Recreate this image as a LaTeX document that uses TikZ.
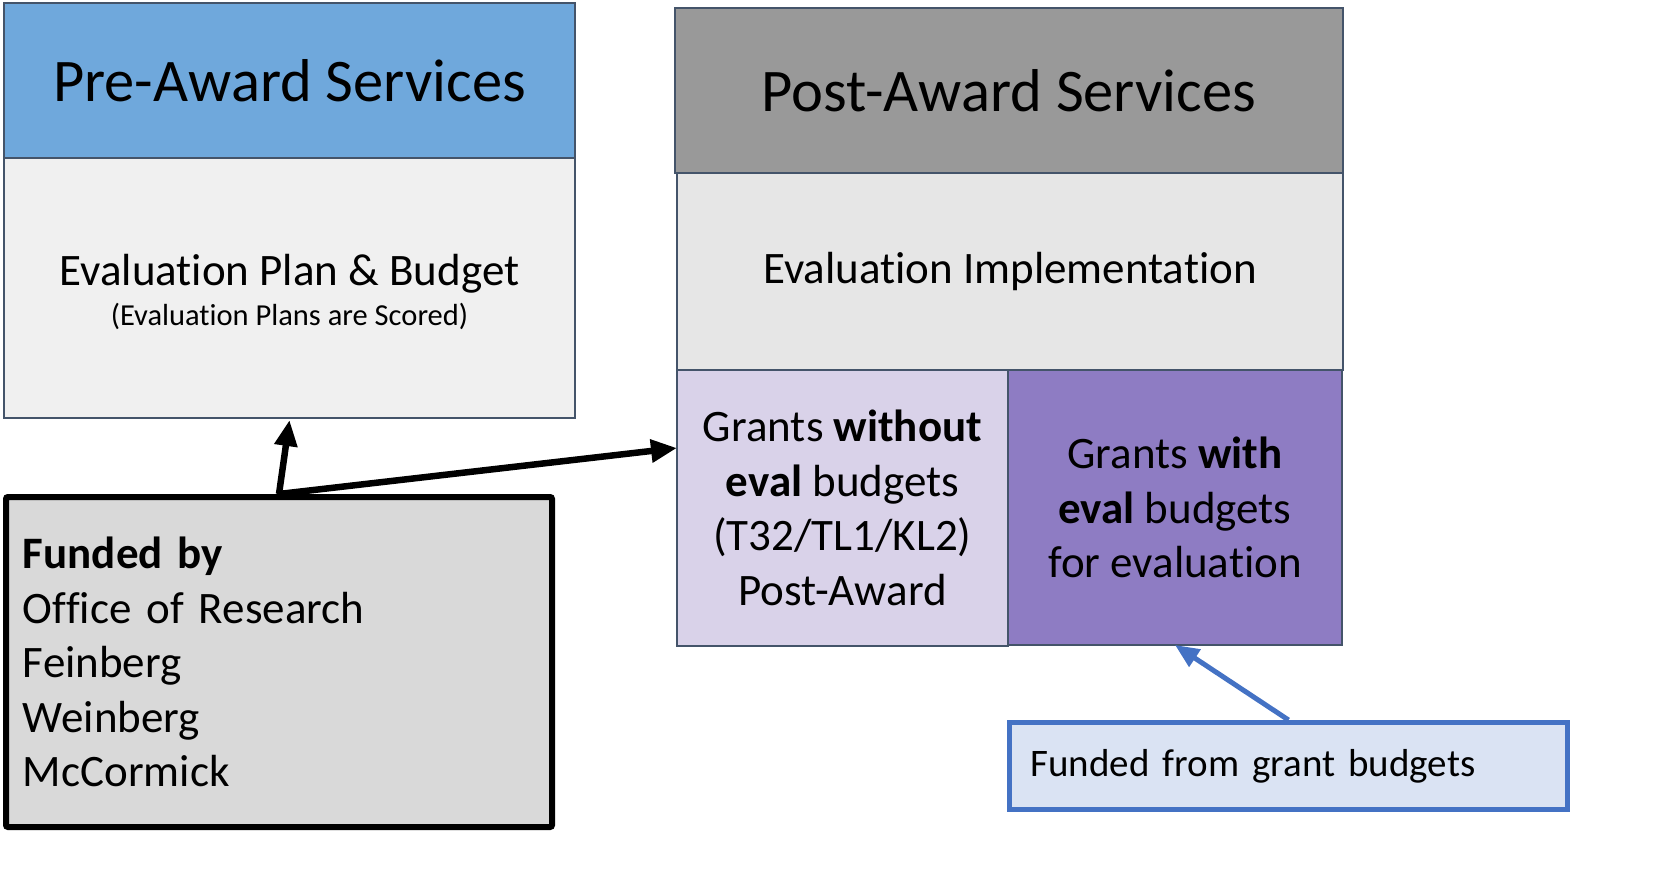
\documentclass[tikz,border=0pt]{standalone}
\usepackage{fontspec}
\setmainfont{Carlito}[Ligatures=NoCommon]
\usetikzlibrary{arrows.meta}
\definecolor{preblue}{HTML}{6FA8DC}
\definecolor{prebody}{HTML}{F0F0F0}
\definecolor{postgray}{HTML}{999999}
\definecolor{postbody}{HTML}{E6E6E6}
\definecolor{lav}{HTML}{D9D2E9}
\definecolor{purp}{HTML}{8E7CC3}
\definecolor{edgec}{HTML}{44546A}
\definecolor{fundgray}{HTML}{D9D9D9}
\definecolor{bluebd}{HTML}{4472C4}
\definecolor{bluefill}{HTML}{DAE3F3}
\begin{document}
\begin{tikzpicture}[x=1pt,y=-1pt,
  cell/.style={draw=edgec, line width=1.5pt, inner sep=0pt, outer sep=0pt, anchor=north west, align=center},
  titlefont/.style={font=\fontsize{60.5}{72}\selectfont},
  bigfont/.style={font=\fontsize{45}{54.5}\selectfont},
  smallfont/.style={font=\fontsize{30.5}{36}\selectfont},
  blackarrow/.style={line width=6.5pt, -{Triangle[length=26pt,width=22pt]}},
  bluearrow/.style={draw=bluebd, line width=5pt, -{Triangle[length=24pt,width=20pt]}}]
\useasboundingbox (0,0) rectangle (1661,877);
% Pre-award
\node[cell, fill=preblue, minimum width=571pt, minimum height=155pt, titlefont] (prehead) at (4,3) {Pre-Award Services};
\node[cell, fill=prebody, minimum width=571pt, minimum height=260pt] (prebody) at (4,158) {};
\node[bigfont, anchor=base] (pretxt) at (289.5,285) {Evaluation Plan \& Budget};
\node[smallfont, anchor=base] (presub) at (289.5,325) {(Evaluation Plans are Scored)};
% Post-award
\node[cell, fill=postgray, minimum width=668pt, minimum height=165pt, titlefont] (posthead) at (675,8) {Post-Award Services};
\node[cell, fill=postbody, minimum width=666pt, minimum height=197pt, bigfont] (postbody) at (677,173) {Evaluation Implementation};
\node[cell, fill=lav, minimum width=331pt, minimum height=276pt, bigfont] (without) at (677,370) {Grants \textbf{without}\\\textbf{eval} budgets\\(T32/TL1/KL2)\\Post-Award};
\node[cell, fill=purp, minimum width=334pt, minimum height=275pt, bigfont] (with) at (1008,370) {Grants \textbf{with}\\\textbf{eval} budgets\\for evaluation};
% Funding boxes
\node[draw=black, line width=6pt, fill=fundgray, rounded corners=2pt, anchor=north west, minimum width=546pt, minimum height=330pt, inner xsep=17pt, inner ysep=0pt, text width=512pt, align=left, bigfont] (funded) at (3,494) {\textbf{Funded by}\\Office of Research\\Feinberg\\Weinberg\\McCormick};
\node[draw=bluebd, line width=5pt, fill=bluefill, anchor=north west, minimum width=558pt, minimum height=87pt, inner xsep=21pt, inner ysep=0pt, text width=516pt, align=left, font=\fontsize{39}{47}\selectfont] (grantfund) at (1007,720) {Funded from grant budgets};
% Arrows
\draw[blackarrow] (funded.north) -- ([yshift=-2pt]prebody.south);
\draw[blackarrow] (funded.north) -- ([yshift=60pt]without.west);
\draw[bluearrow] (grantfund.north) -- (with.south);
\end{tikzpicture}
\end{document}
